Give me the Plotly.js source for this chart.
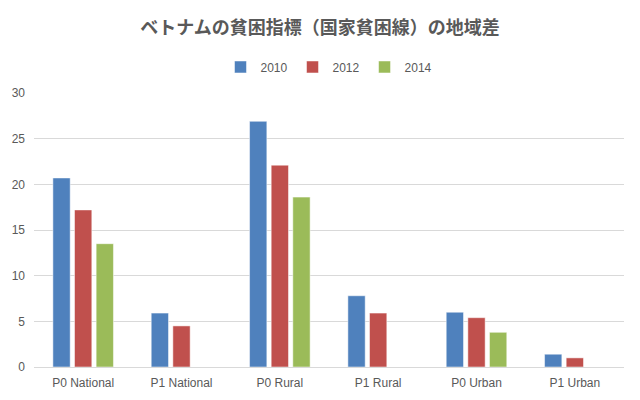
<!DOCTYPE html>
<html><head><meta charset="utf-8">
<script src="https://cdn.plot.ly/plotly-3.0.1.min.js"></script>
<style>html,body{margin:0;padding:0;background:#fff}#chart{width:640px;height:400px}</style>
</head><body><div id="chart"></div>
<script>
const categories = ["P0 National","P1 National","P0 Rural","P1 Rural","P0 Urban","P1 Urban"];
const seriesNames = ["2010","2012","2014"];
const values2010 = [20.7, 5.9, 26.9, 7.8, 6.0, 1.4];
const values2012 = [17.2, 4.5, 22.1, 5.9, 5.4, 1.0];
const values2014 = [13.5, null, 18.6, null, 3.8, null];
const colors = ["#4F81BD","#C0504D","#9BBB59"];
const allValues = [values2010, values2012, values2014];

const traces = allValues.map((v,i)=>({
  type:"bar", name:seriesNames[i], x:categories, y:v,
  marker:{color:colors[i], line:{color:"#ffffff", width:0.5}},
  hoverinfo:"x+y"
}));
const font = "'Liberation Sans',Arial,sans-serif";
const layout = {
  width:640, height:400,
  margin:{l:34, r:16, t:93, b:33},
  paper_bgcolor:"#fff", plot_bgcolor:"#fff",
  title:{text:"ベトナムの貧困指標（国家貧困線）の地域差", x:0.5, xanchor:"center", y:0.93, yanchor:"middle",
    font:{family:"'Noto Sans CJK JP',sans-serif", size:18, color:"#595959", weight:"bold"}},
  legend:{orientation:"h", x:0.5, xanchor:"center", y:1.095, yanchor:"middle",
    font:{family:font, size:12, color:"#595959"}, itemwidth:30, tracegroupgap:0},
  barmode:"group", bargap:0.34, bargroupgap:0.2,
  xaxis:{type:"category", tickfont:{family:font, size:12, color:"#595959"}, showline:true, linecolor:"#D9D9D9", linewidth:1, ticks:"", ticklabelstandoff:5},
  yaxis:{range:[0,30], dtick:5, tickfont:{family:font, size:12, color:"#595959"}, gridcolor:"#D9D9D9", gridwidth:1,
    zeroline:true, zerolinecolor:"#D9D9D9", showline:false, ticks:"", ticklabelstandoff:8, fixedrange:true},
  showlegend:true
};
Plotly.newPlot("chart", traces, layout, {displayModeBar:false, staticPlot:true});
</script></body></html>
